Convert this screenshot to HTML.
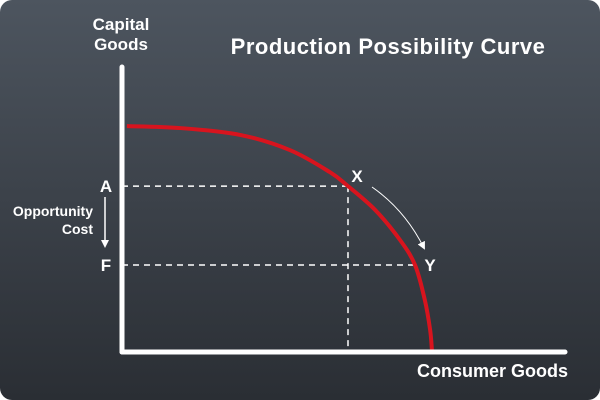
<!DOCTYPE html>
<html><head><meta charset="utf-8"><style>
html,body{margin:0;padding:0;background:#fff;}
#wrap{position:relative;width:600px;height:400px;border-radius:12px;overflow:hidden;background:linear-gradient(#4d555f,#2a2e34);font-family:"Liberation Sans",sans-serif;color:#fff;font-weight:bold;}
svg{position:absolute;left:0;top:0;}
</style></head><body>
<div id="wrap">
<svg id="c" width="600" height="400">
<defs><marker id="ah" markerWidth="8" markerHeight="8" refX="6" refY="4" orient="auto" markerUnits="userSpaceOnUse"><path d="M0,0 L8,4 L0,8 Z" fill="#fff"/></marker></defs>
<text x="388" y="54" font-size="22" font-weight="bold" fill="#fff" text-anchor="middle" letter-spacing="0.5">Production Possibility Curve</text>
<text x="121" y="30" font-size="17" font-weight="bold" fill="#fff" text-anchor="middle"><tspan x="121">Capital</tspan><tspan x="121" dy="20">Goods</tspan></text>
<text x="568" y="377" font-size="18" font-weight="bold" fill="#fff" text-anchor="end">Consumer Goods</text>
<text x="93" y="216" font-size="14" font-weight="bold" fill="#fff" text-anchor="end"><tspan x="93">Opportunity</tspan><tspan x="93" dy="18">Cost</tspan></text>
<line x1="105" y1="197" x2="105" y2="246" stroke="#fff" stroke-width="1.5" marker-end="url(#ah)"/>
<path d="M372,187 Q405,210 424,248" fill="none" stroke="#fff" stroke-width="1" marker-end="url(#ah)"/>
</svg>
</div>
<script>
const curveX=[1.1,13.1,26.6,37.8,46.8,50.9,57.0,62.6,66.0,68.2,69.4,69.8];
const curveY=[79.0,78.3,75.9,70.6,62.9,58.0,49.7,39.2,30.4,18.2,7.7,0.7];
const pointLabels=["X","Y"];
const pointX=[50.9,66.0];
const pointY=[58.0,30.4];
const levelLabels=["A","F"];
const sx=v=>122+v*4.44, sy=v=>352-v*2.86;
const svg=document.getElementById('c');const NS='http://www.w3.org/2000/svg';
function mk(t,a){const e=document.createElementNS(NS,t);for(const k in a)e.setAttribute(k,a[k]);svg.appendChild(e);return e;}
pointX.forEach((px,i)=>{
 const h=mk('line',{x1:122,y1:sy(pointY[i]),x2:sx(px),y2:sy(pointY[i]),stroke:'#fff','stroke-width':1.5,'stroke-dasharray':'6,5'});
 
 
 const lt=mk('text',{x:106,y:sy(pointY[i])+6,'font-size':17,'font-weight':'bold',fill:'#fff','text-anchor':'middle'});
 lt.textContent=levelLabels[i];
 
 
});
const v=mk('line',{x1:sx(pointX[0]),y1:sy(pointY[0]),x2:sx(pointX[0]),y2:352,stroke:'#fff','stroke-width':1.5,'stroke-dasharray':'6,5'});


const P=curveX.map((x,i)=>[sx(x),sy(curveY[i])]);
let d='M'+P[0][0]+','+P[0][1];
for(let i=0;i<P.length-1;i++){const p0=P[Math.max(0,i-1)],p1=P[i],p2=P[i+1],p3=P[Math.min(P.length-1,i+2)];
d+=' C'+(p1[0]+(p2[0]-p0[0])/6)+','+(p1[1]+(p2[1]-p0[1])/6)+' '+(p2[0]-(p3[0]-p1[0])/6)+','+(p2[1]-(p3[1]-p1[1])/6)+' '+p2[0]+','+p2[1];}
const c=mk('path',{d:d,fill:'none',stroke:'#d8141e','stroke-width':4});


const ya=mk('line',{x1:122,y1:67,x2:122,y2:352,stroke:'#fff','stroke-width':5,'stroke-linecap':'round'});


const xa=mk('line',{x1:122,y1:352,x2:565,y2:352,stroke:'#fff','stroke-width':5,'stroke-linecap':'round'});


const offs=[[9,-4],[15,6]];
pointLabels.forEach((l,i)=>{
 const t=mk('text',{x:sx(pointX[i])+offs[i][0],y:sy(pointY[i])+offs[i][1],'font-size':17,'font-weight':'bold',fill:'#fff','text-anchor':'middle'});
 t.textContent=l;
 
 
});
</script>
</body></html>
